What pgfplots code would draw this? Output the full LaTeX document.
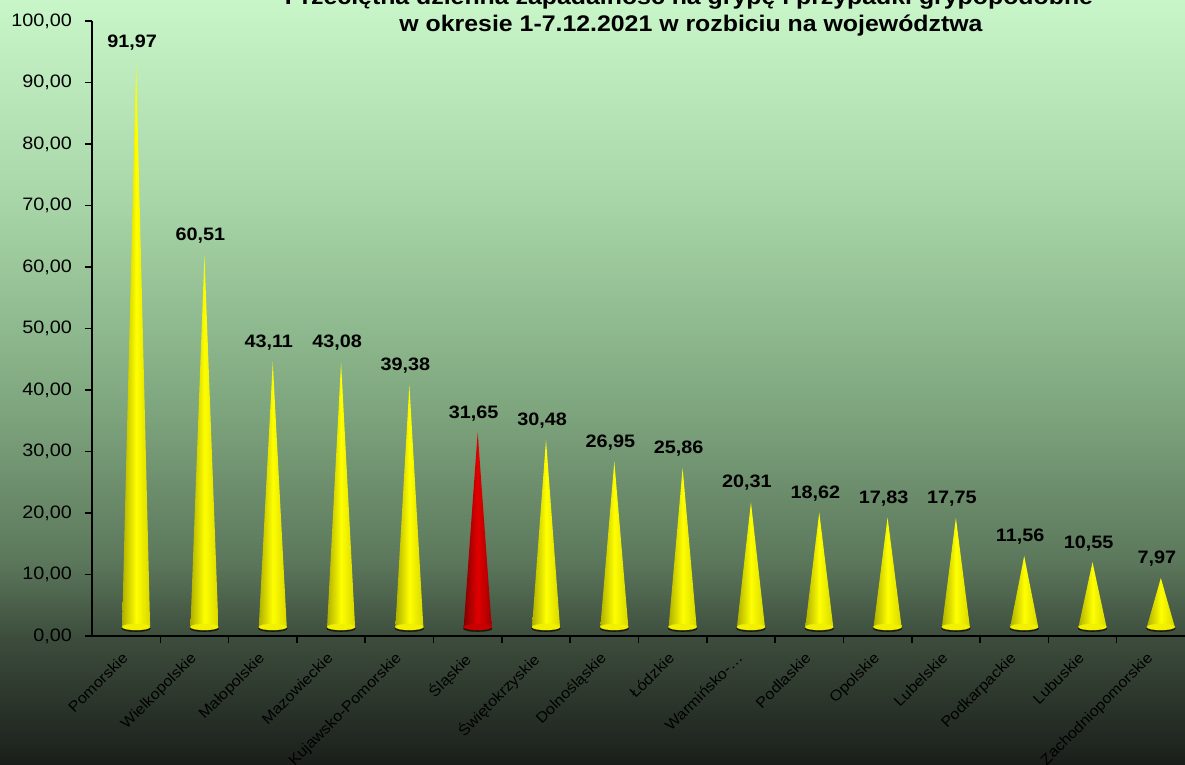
\documentclass[border=0pt]{standalone}
\usepackage{pgfplots}
\pgfplotsset{compat=1.18}
\usepackage{pgfplotstable}
\usepackage{fontspec}
\setmainfont{Liberation Sans}[FakeStretch=1.1]

\pgfplotstableread{
x v
0 91.97
1 60.51
2 43.11
3 43.08
4 39.38
5 31.65
6 30.48
7 26.95
8 25.86
9 20.31
10 18.62
11 17.83
12 17.75
13 11.56
14 10.55
15 7.97
}\datatable

\definecolor{bg0}{RGB}{26,30,26}
\definecolor{bg1}{RGB}{60,76,60}
\definecolor{bg2}{RGB}{92,120,92}
\definecolor{bg3}{RGB}{128,168,128}
\definecolor{bg4}{RGB}{168,214,168}
\definecolor{bg5}{RGB}{200,246,200}
\pgfdeclareverticalshading{bgshade}{100bp}{color(0bp)=(bg0); color(25bp)=(bg0); color(33.2bp)=(bg1); color(38.4bp)=(bg2); color(48.9bp)=(bg3); color(61.9bp)=(bg4); color(75bp)=(bg5); color(100bp)=(bg5)}

\definecolor{yl}{RGB}{175,175,0}
\definecolor{ym}{RGB}{255,255,0}
\definecolor{yr}{RGB}{215,215,0}
\definecolor{yb}{RGB}{240,240,0}
\definecolor{rl}{RGB}{130,0,0}
\definecolor{rm}{RGB}{225,0,0}
\definecolor{rr}{RGB}{160,0,0}
\definecolor{rb}{RGB}{200,0,0}
\definecolor{rim}{RGB}{25,25,10}

\tikzset{
  yellowcone/.style={left color=yl, right color=yr, middle color=ym},
  redcone/.style={left color=rl, right color=rr, middle color=rm},
  yellowbase/.style={fill=yb, draw=yb, line width=0.1pt},
  redbase/.style={fill=rb, draw=rb, line width=0.1pt},
}

\begin{document}
\begin{tikzpicture}[x=1pt,y=1pt]
\useasboundingbox (-46,-64.5) rectangle (546.5,318);
\shade[shading=bgshade] (-46,-64.5) rectangle (546.5,318);
\node[anchor=base, inner sep=0pt, font=\bfseries\fontsize{11.3}{13}\selectfont] at (298.5,315.5) {Przeciętna dzienna zapadalność na grypę  i przypadki grypopodobne};
\node[anchor=base, inner sep=0pt, font=\bfseries\fontsize{11.3}{13}\selectfont] at (299.5,302) {w okresie  1-7.12.2021 w rozbiciu  na województwa};
\begin{axis}[
  at={(0,0)}, anchor=south west,
  scale only axis, width=546.5pt, height=307.5pt,
  xmin=-0.5, xmax=15.5, ymin=0, ymax=100,
  clip=false,
  axis x line*=bottom, axis y line*=left,
  axis line style={-, black, line width=0.8pt},
  tick align=outside,
  ytick={0,10,...,100},
  major tick length=3.5pt, minor tick length=3.5pt,
  tick style={black, line width=0.8pt},
  xtick={0,...,15},
  minor xtick={0.5,1.5,...,14.5},
  major x tick style={draw=none},
  xticklabels={Pomorskie,Wielkopolskie,Małopolskie,Mazowieckie,Kujawsko-Pomorskie,Śląskie,Świętokrzyskie,Dolnośląskie,Łódzkie,Warmińsko-…,Podlaskie,Opolskie,Lubelskie,Podkarpackie,Lubuskie,Zachodniopomorskie},
  xticklabel style={yshift=-4pt, xshift=-2.5pt, rotate=45, anchor=north east, font=\fontsize{7.4}{9}\selectfont, inner sep=0pt},
  yticklabel style={font=\fontsize{9}{10}\selectfont, xshift=-3pt, /pgf/number format/.cd, fixed, fixed zerofill, precision=2, use comma, assume math mode=true},
]
\pgfplotsinvokeforeach{0,...,15}{
  \pgfplotstablegetelem{#1}{v}\of\datatable
  \let\val\pgfplotsretval
  \pgfmathsetmacro\xc{#1+0.146}
  \pgfmathsetmacro\xl{#1+0.146-0.205}
  \pgfmathsetmacro\xr{#1+0.146+0.205}
  \pgfmathsetmacro\apex{\val+1.46}
  \ifnum#1=5 \def\cstyle{redcone}\def\estyle{redbase}\else\def\cstyle{yellowcone}\def\estyle{yellowbase}\fi
  \edef\temp{%
    \noexpand\addplot[only marks, mark=*, mark size=7.2pt, forget plot, mark options={yscale=0.22, fill=rim, draw=rim, line width=0.1pt}] coordinates {(\xc,1.2)};
    \noexpand\addplot[only marks, mark=*, mark size=7pt, forget plot, mark options={yscale=0.22, \estyle}] coordinates {(\xc,1.46)};
    \noexpand\addplot[\cstyle, draw=none, forget plot] coordinates {(\xl,1.46) (\xc,\apex) (\xr,1.46)} -- cycle;
  }\temp
}
\addplot[draw=none, mark=none, forget plot, nodes near coords,
  nodes near coords={\pgfmathprintnumber[fixed, fixed zerofill, precision=2, use comma, assume math mode=true]{\pgfplotspointmeta}},
  every node near coord/.append style={anchor=center, xshift=3pt, yshift=14pt, font=\bfseries\fontsize{9}{10}\selectfont, text=black}]
  table[x=x, y=v] {\datatable};
\end{axis}
\end{tikzpicture}
\end{document}
